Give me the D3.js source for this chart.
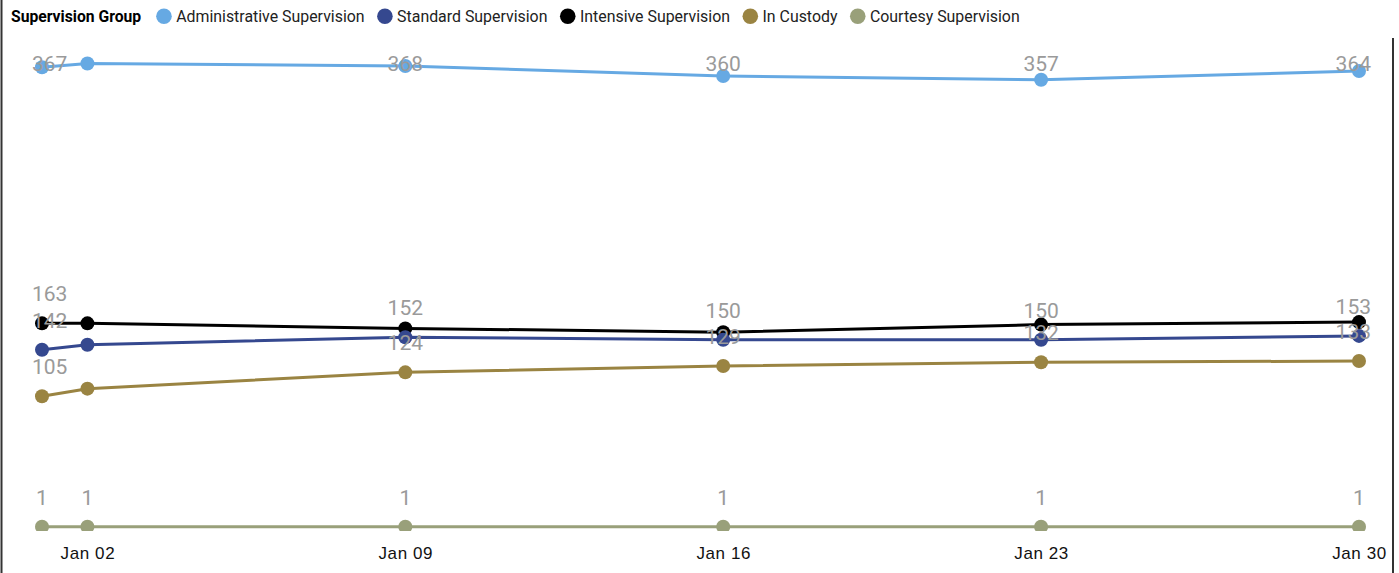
<!DOCTYPE html>
<html>
	<head>
		<title>supervision</title>
		<style>
			body { margin: 0; background: #fff; }
			svg { display: block; font-family: Roboto, "DejaVu Sans", sans-serif; }
			.legend-title { font-weight: bold; font-size: 15.7px; fill: #000; }
			.legend-item { font-size: 15.9px; fill: #222; }
			.tick text { font-size: 17px; fill: #111; }
			.value-label { font-size: 21px; fill: #9a9a9a; }
			.frame { stroke: #333; stroke-width: 2; }
		</style>
		<script src="https://d3js.org/d3.v7.min.js"></script>
	</head>
	<body>
		<svg id="chart" width="1399" height="573"></svg>
	</body>
	<script>
		// data
		const dates = ['2024-01-01', '2024-01-02', '2024-01-09', '2024-01-16', '2024-01-23', '2024-01-30'];
		const tickDates = ['2024-01-02', '2024-01-09', '2024-01-16', '2024-01-23', '2024-01-30'];

		const groups = ['Administrative Supervision', 'Standard Supervision', 'Intensive Supervision', 'In Custody', 'Courtesy Supervision'];
		const colors = ['#66a9e3', '#35488f', '#000000', '#9a8442', '#99a07a'];

		const administrative = [367, 370, 368, 360, 357, 364];
		const standard = [142, 146, 152, 150, 150, 153];
		const intensive = [163, 163, 159, 156, 162, 164];
		const custody = [105, 111, 124, 129, 132, 133];
		const courtesy = [1, 1, 1, 1, 1, 1];

		// which points get a data label (1 = shown)
		const administrativeLabels = [1, 0, 1, 1, 1, 1];
		const standardLabels = [1, 0, 1, 1, 1, 1];
		const intensiveLabels = [1, 0, 0, 0, 0, 0];
		const custodyLabels = [1, 0, 1, 1, 1, 1];
		const courtesyLabels = [1, 1, 1, 1, 1, 1];

		const series = [administrative, standard, intensive, custody, courtesy];
		const labelFlags = [administrativeLabels, standardLabels, intensiveLabels, custodyLabels, courtesyLabels];

		const parse = d3.timeParse('%Y-%m-%d');
		const svg = d3.select('#chart');

		// frame
		svg.append('line').attr('class', 'frame').attr('x1', 1.5).attr('x2', 1.5).attr('y1', 0).attr('y2', 573);
		svg.append('line').attr('class', 'frame').attr('x1', 1393).attr('x2', 1393).attr('y1', 38).attr('y2', 573);

		// legend
		var lx = 11;
		const legend = svg.append('g');
		const title = legend.append('text').attr('class', 'legend-title').attr('x', lx).attr('y', 22).text('Supervision Group');
		lx += title.node().getComputedTextLength() + 15;
		groups.forEach((g, i) => {
			legend.append('circle').attr('cx', lx + 7.8).attr('cy', 16.3).attr('r', 7.8).attr('fill', colors[i]);
			const t = legend.append('text').attr('class', 'legend-item').attr('x', lx + 20).attr('y', 22).text(g);
			lx += 20 + t.node().getComputedTextLength() + 12.5;
		});

		const x = d3.scaleTime()
			.domain([parse(dates[0]), parse(dates[dates.length - 1])])
			.range([42, 1359]);
		const y = d3.scaleLinear().domain([0, 370]).range([528, 63.5]);

		// x axis, no line and no tick marks
		const xAxis = svg.append('g')
			.attr('transform', 'translate(0,547)')
			.call(d3.axisBottom(x).tickValues(tickDates.map(parse)).tickFormat(d3.timeFormat('%b %d')).tickSize(0).tickPadding(0));
		xAxis.select('.domain').remove();
		xAxis.selectAll('.tick text').attr('dy', '0.71em').attr('font-family', null).attr('font-size', null).style('letter-spacing', '0.6px');

		svg.append('clipPath').attr('id', 'plot-clip')
			.append('rect').attr('x', 0).attr('y', 30).attr('width', 1392).attr('height', 501);

		const plot = svg.append('g').attr('clip-path', 'url(#plot-clip)');
		const line = d3.line().x((d, i) => x(parse(dates[i]))).y(d => y(d));

		// draw back to front so the earlier legend entries sit on top
		for (let s = series.length - 1; s >= 0; s--) {
			const g = plot.append('g');
			g.append('path')
				.attr('d', line(series[s]))
				.attr('fill', 'none')
				.attr('stroke', colors[s])
				.attr('stroke-width', 3);
			g.selectAll('circle')
				.data(series[s])
				.join('circle')
				.attr('cx', (d, i) => x(parse(dates[i])))
				.attr('cy', d => y(d))
				.attr('r', 7)
				.attr('fill', colors[s]);
		}

		// data labels, kept inside the plot area
		const labels = svg.append('g');
		series.forEach((vals, s) => {
			vals.forEach((v, i) => {
				if (!labelFlags[s][i]) return;
				const t = labels.append('text')
					.attr('class', 'value-label')
					.attr('text-anchor', 'middle')
					.text(v);
				const w = t.node().getComputedTextLength();
				var cx = x(parse(dates[i]));
				cx = Math.max(32 + w / 2, Math.min(1371 - w / 2, cx));
				const by = Math.max(71, y(v) - 22);
				t.attr('x', cx).attr('y', by);
			});
		});
	</script>
</html>
